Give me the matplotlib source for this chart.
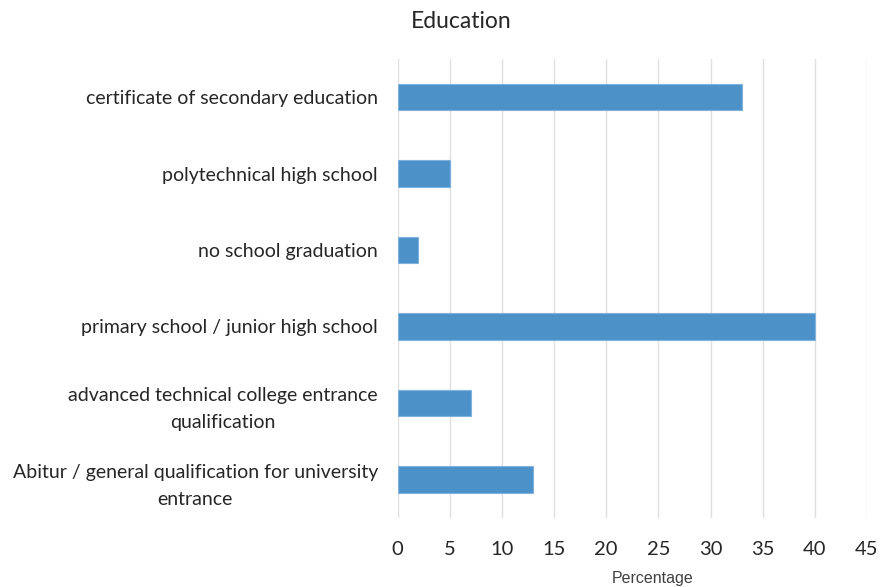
import matplotlib
matplotlib.use("Agg")
import matplotlib.pyplot as plt

categories = [
    "certificate of secondary education",
    "polytechnical high school",
    "no school graduation",
    "primary school / junior high school",
    "advanced technical college entrance\nqualification",
    "Abitur / general qualification for university\nentrance",
]
values = [33, 5, 2, 40, 7, 13]
xticks = [0, 5, 10, 15, 20, 25, 30, 35, 40, 45]

plt.rcParams["font.family"] = ["Lato", "DejaVu Sans"]

fig = plt.figure(figsize=(8.8, 5.87), dpi=100)
ax = fig.add_axes([397.5 / 880, 1 - 517.75 / 587, (867 - 397.5) / 880, (517.75 - 58.75) / 587])

ypos = list(range(len(categories)))
ax.barh(ypos, values, height=0.35, color="#4C92C8", edgecolor="#7FB2DC", linewidth=0.8, zorder=3)

ax.set_xlim(0, 45)
ax.set_ylim(len(categories) - 0.5, -0.5)
ax.set_xticks(xticks)
ax.set_xticklabels([str(t) for t in xticks], fontsize=14.5, color="#262626")
ax.set_yticks(ypos)
ax.set_yticklabels(categories, fontsize=14, color="#262626", multialignment="center", linespacing=1.7)
ax.tick_params(axis="both", length=0)
ax.tick_params(axis="x", pad=17)
ax.tick_params(axis="y", pad=14)

ax.grid(axis="x", color="#E0E0E0", linewidth=1.0, zorder=0)
for s in ax.spines.values():
    s.set_visible(False)

fig.text(461 / 880, 1 - 21 / 587, "Education", ha="center", va="center", fontsize=16.5, color="#262626")
fig.text(653 / 880, 1 - 578 / 587, "Percentage", ha="center", va="center", fontsize=11.5,
         family=["Liberation Sans", "DejaVu Sans"], color="#404040")

fig.savefig("out.png", dpi=100)
